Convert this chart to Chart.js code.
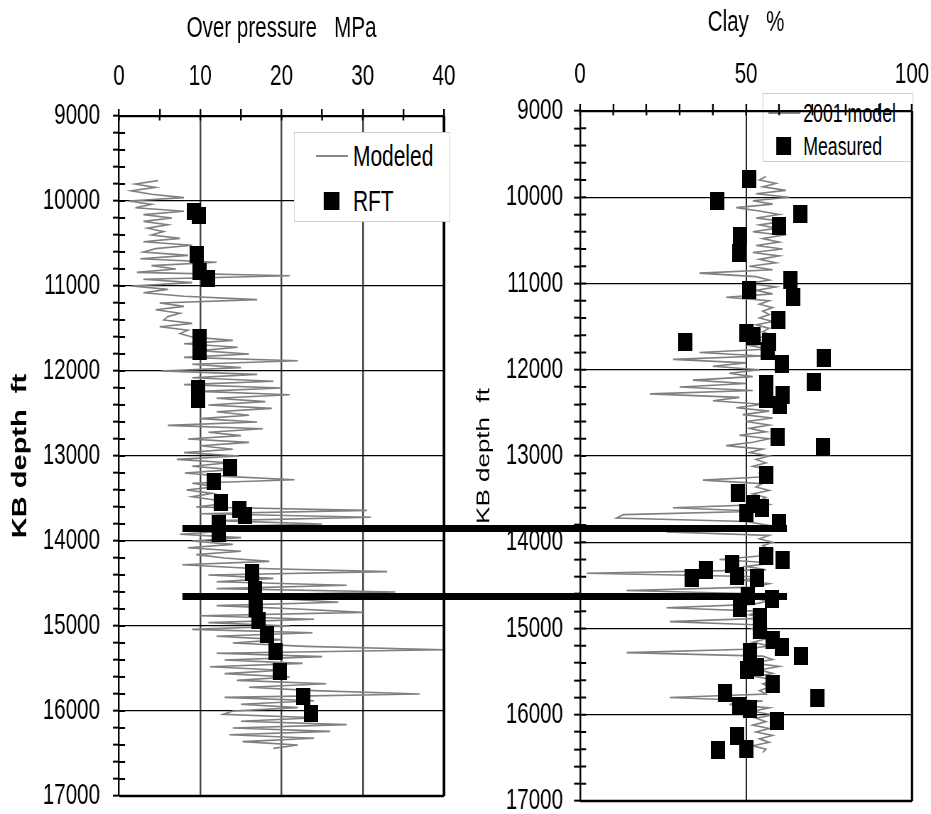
<!DOCTYPE html>
<html>
<head>
<meta charset="utf-8">
<script src="https://cdn.jsdelivr.net/npm/chart.js@4.4.1/dist/chart.umd.min.js"></script>
<style>
  html, body { margin: 0; padding: 0; background: #fff; overflow: hidden; }
  /* the source figure is squeezed sideways, so draw wide and squeeze the stage */
  #stage { position: relative; width: 1311px; height: 814px; transform: scaleX(0.71014); transform-origin: 0 0;
           font-family: "Liberation Sans", Arial, sans-serif; color: #000; }
  #stage canvas { position: absolute; left: 0; top: 0; display: block; }
  #clayCanvas { z-index: 2; }
  #pressureCanvas { z-index: 3; }
  .legend { position: absolute; background: #fff; border: 1px solid #cfcfcf; box-sizing: border-box; }
  .legend span { position: absolute; white-space: nowrap; }
  .legend i { position: absolute; display: block; }
  .swatch-line { height: 2px; background: #888; }
  .swatch-box { background: #000; }
  #legendClay { z-index: 1; left: 1074px; top: 93px; width: 212px; height: 69px; font-size: 25px; }
  #legendPressure { z-index: 4; left: 414px; top: 132px; width: 220px; height: 90px; font-size: 29.5px; }
</style>
</head>
<body>
<div id="stage">
  <div id="legendClay" class="legend">
    <i class="swatch-line" style="left:7px;top:18px;width:45px;"></i>
    <span style="left:56px;top:5px;line-height:28px;">2001 model</span>
    <i class="swatch-box" style="left:18px;top:43px;width:21px;height:18px;"></i>
    <span style="left:56px;top:38px;line-height:28px;">Measured</span>
  </div>
  <canvas id="clayCanvas" width="1311" height="814"></canvas>
  <canvas id="pressureCanvas" width="1311" height="814"></canvas>
  <div id="legendPressure" class="legend">
    <i class="swatch-line" style="left:30px;top:22px;width:45px;"></i>
    <span style="left:82px;top:8px;line-height:30px;">Modeled</span>
    <i class="swatch-box" style="left:41px;top:59px;width:22px;height:18px;"></i>
    <span style="left:82px;top:53px;line-height:30px;">RFT</span>
  </div>
</div>
<script>
// depth samples of both modelled logs (ft)
const modelDepth = [
  9760, 9800, 9840, 9880, 9920, 9960, 10000, 10040, 10080, 10120,
  10160, 10200, 10240, 10280, 10320, 10360, 10400, 10440, 10480, 10520,
  10560, 10600, 10640, 10680, 10720, 10760, 10800, 10840, 10880, 10920,
  10960, 11000, 11040, 11080, 11120, 11160, 11200, 11240, 11280, 11320,
  11360, 11400, 11440, 11480, 11520, 11560, 11600, 11640, 11680, 11720,
  11760, 11800, 11840, 11880, 11920, 11960, 12000, 12040, 12080, 12120,
  12160, 12200, 12240, 12280, 12320, 12360, 12400, 12440, 12480, 12520,
  12560, 12600, 12640, 12680, 12720, 12760, 12800, 12840, 12880, 12920,
  12960, 13000, 13040, 13080, 13120, 13160, 13200, 13240, 13280, 13320,
  13360, 13400, 13440, 13480, 13520, 13560, 13600, 13640, 13680, 13720,
  13760, 13800, 13840, 13880, 13920, 13960, 14000, 14040, 14080, 14120,
  14160, 14200, 14240, 14280, 14320, 14360, 14400, 14440, 14480, 14520,
  14560, 14600, 14640, 14680, 14720, 14760, 14800, 14840, 14880, 14920,
  14960, 15000, 15040, 15080, 15120, 15160, 15200, 15240, 15280, 15320,
  15360, 15400, 15440, 15480, 15520, 15560, 15600, 15640, 15680, 15720,
  15760, 15800, 15840, 15880, 15920, 15960, 16000, 16040, 16080, 16120,
  16160, 16200, 16240, 16280, 16320, 16360, 16400, 16440
];

// modelled over pressure (MPa)
const pressureModel = [
  4.8, 2.0, 4.5, 1.5, 4.0, 8.0, 1.2, 4.0, 2.0, 8.0,
  3.0, 6.5, 3.0, 6.0, 3.5, 5.5, 4.0, 7.5, 3.0, 9.0,
  4.5, 3.0, 8.5, 2.6, 12.0, 4.0, 7.0, 2.2, 21.0, 3.0,
  9.0, 1.6, 6.0, 3.0, 8.0, 17.0, 5.0, 8.0, 4.5, 7.5,
  6.0, 5.5, 9.0, 5.0, 8.5, 7.5, 9.0, 14.0, 8.0, 14.6,
  10.0, 16.0, 8.0, 22.0, 9.0, 15.0, 5.2, 17.0, 9.0, 19.0,
  8.0, 20.0, 10.0, 21.0, 12.0, 18.0, 11.0, 18.8, 12.0, 16.0,
  10.0, 17.0, 6.0, 17.7, 11.0, 15.0, 8.5, 16.0, 10.0, 14.0,
  8.0, 14.8, 7.1, 13.5, 9.0, 14.0, 8.1, 13.0, 21.6, 9.0,
  12.0, 8.3, 11.5, 9.0, 12.0, 13.0, 9.5, 30.5, 10.0, 31.0,
  12.0, 25.0, 8.0, 14.0, 7.5, 15.0, 9.0, 14.0, 8.5, 15.0,
  9.5, 13.0, 18.5, 7.8, 16.0, 33.0, 11.0, 19.0, 12.0, 28.0,
  12.0, 34.0, 13.0, 20.0, 27.0, 12.0, 22.0, 30.0, 10.0, 24.0,
  11.0, 21.0, 9.0, 23.8, 12.0, 20.0, 14.0, 23.0, 40.0, 12.0,
  25.0, 13.0, 22.6, 11.2, 20.0, 13.0, 21.0, 14.5, 25.5, 16.0,
  24.0, 37.0, 13.0, 24.0, 15.0, 22.0, 14.0, 12.8, 24.3, 15.0,
  28.0, 14.0, 26.0, 13.6, 24.0, 15.2, 22.0, 19.0
];

// 2001 model clay content (%)
const clayModel = [
  56, 54, 59, 55, 62, 53, 63, 52, 58, 47,
  54, 60, 53, 61, 54, 59, 52, 61, 55, 60,
  53, 61, 52, 60, 54, 59, 51, 58, 36, 53,
  57, 51, 59, 53, 58, 44, 57, 54, 58, 55,
  57, 54, 58, 53, 57, 55, 58, 52, 59, 51,
  57, 36, 55, 28, 50, 40, 54, 45, 52, 34,
  50, 30, 52, 21, 48, 40, 55, 47, 57, 49,
  58, 50, 57, 51, 56, 48, 57, 52, 44, 55,
  51, 57, 53, 56, 52, 57, 54, 56, 37, 55,
  53, 57, 52, 56, 54, 57, 28, 54, 13, 11,
  50, 56, 48, 26, 57, 54, 58, 55, 57, 54,
  54, 42, 58, 50, 56, 2, 55, 49, 57, 52,
  14, 55, 50, 57, 52, 26, 54, 51, 56, 27,
  55, 52, 57, 53, 56, 52, 57, 50, 14, 55,
  58, 52, 60, 54, 58, 53, 59, 55, 57, 54,
  56, 27, 55, 45, 57, 52, 58, 53, 56, 52,
  57, 53, 58, 54, 57, 52, 56, 55
];

// RFT measurements
const rftPressure = [9.2, 9.8, 9.6, 9.9, 11.0, 9.9, 9.9, 9.7, 9.7, 13.7, 11.7, 12.5, 14.8,
  15.5, 12.3, 12.3, 16.4, 16.7, 16.8, 17.2, 18.2, 19.3, 19.8, 22.7, 23.6];
const rftDepth = [10120, 10165, 10635, 10830, 10915, 11600, 11770, 12210, 12340, 13130, 13295, 13550, 13625,
  13705, 13790, 13915, 14365, 14565, 14790, 14930, 15105, 15305, 15530, 15825, 16025];

// measured clay
const clayMeasured = [51.0, 41.3, 66.3, 59.9, 48.2, 48.0, 63.3, 51.0, 64.2, 59.8, 50.1, 52.3, 31.6, 56.9,
  56.6, 73.4, 60.8, 70.5, 56.0, 61.1, 56.0, 60.2, 59.6, 73.2, 56.0, 47.6, 52.1, 54.8, 50.0, 59.9,
  56.0, 61.1, 45.8, 38.0, 33.7, 47.3, 53.3, 50.6, 57.8, 48.2, 54.2, 54.2, 58.1, 60.8, 66.6, 51.2,
  50.3, 53.3, 58.1, 43.7, 71.4, 47.9, 51.2, 59.3, 47.3, 41.6, 50.0];
const clayDepth = [9783, 10041, 10194, 10333, 10449, 10646, 10954, 11081, 11157, 11423, 11574, 11609, 11675, 11684,
  11783, 11864, 11933, 12142, 12165, 12293, 12339, 12409, 12780, 12901, 13226, 13429, 13557, 13603, 13661, 13777,
  14159, 14206, 14252, 14322, 14414, 14391, 14414, 14623, 14658, 14762, 14867, 15017, 15133, 15214, 15319, 15272,
  15481, 15446, 15643, 15748, 15806, 15899, 15933, 16072, 16246, 16409, 16397];

// the two horizons that cross both tracks
const horizonDepths = [13853, 14653];
const horizonFromPressure = 7.8;
const horizonToClay = 62.3;

const depthLabels = [9000, 10000, 11000, 12000, 13000, 14000, 15000, 16000, 17000];
const pressureLabels = [0, 10, 20, 30, 40];
const clayLabels = [0, 50, 100];

Chart.defaults.font.family = '"Liberation Sans", Arial, sans-serif';
Chart.defaults.font.size = 29;
Chart.defaults.color = '#000';

function block(w, h) {
    const c = document.createElement('canvas');
    c.width = w;
    c.height = h;
    const g = c.getContext('2d');
    g.fillStyle = '#000';
    g.fillRect(0, 0, w, h);
    return c;
}

// tick stubs inside the plot, plus the right and bottom edges of the box
const frame = {
    id: 'frame',
    afterDraw(chart, args, opts) {
        const { ctx, chartArea: a, scales: { x, y } } = chart;
        ctx.save();
        ctx.strokeStyle = '#000';
        ctx.lineWidth = 2;
        y.ticks.forEach(t => {
            const py = y.getPixelForValue(t.value);
            ctx.beginPath(); ctx.moveTo(a.left, py); ctx.lineTo(a.left + 8.5, py); ctx.stroke();
        });
        ctx.lineWidth = 2.4;
        x.ticks.forEach(t => {
            const px = x.getPixelForValue(t.value);
            ctx.beginPath(); ctx.moveTo(px, a.top); ctx.lineTo(px, a.top + opts.inner); ctx.stroke();
        });
        ctx.lineWidth = opts.right;
        ctx.beginPath(); ctx.moveTo(a.right, a.top); ctx.lineTo(a.right, a.bottom); ctx.stroke();
        ctx.lineWidth = opts.bottom;
        ctx.beginPath(); ctx.moveTo(a.left, a.bottom); ctx.lineTo(a.right, a.bottom); ctx.stroke();
        ctx.restore();
    }
};

function depthAxis(width, labelPad, titlePad, titleFont) {
    return {
        type: 'linear',
        position: 'left',
        reverse: true,
        min: 9000,
        max: 17000,
        afterFit: s => {
            s.width = width;
            s.paddingTop = 0;
            s.paddingBottom = 0;
        },
        ticks: {
            stepSize: 200,
            autoSkip: false,
            maxTicksLimit: 100,
            padding: labelPad,
            callback: v => depthLabels.includes(v) ? String(v) : ''
        },
        grid: {
            color: c => c.tick && depthLabels.includes(c.tick.value) ? '#000' : 'rgba(0,0,0,0)',
            lineWidth: 1.3,
            tickColor: '#000',
            tickLength: 8.5,
            tickWidth: 2
        },
        border: { color: '#000', width: 2.4 },
        title: { display: true, text: 'KB depth  ft', font: titleFont, padding: { top: titlePad, bottom: 0 } }
    };
}

function valueAxis(o) {
    return {
        type: 'linear',
        position: 'top',
        min: o.labels[0],
        max: o.labels[o.labels.length - 1],
        afterFit: s => {
            s.height = o.height;
            s.paddingLeft = 0;
            s.paddingRight = 0;
        },
        ticks: {
            stepSize: o.step,
            autoSkip: false,
            maxRotation: 0,
            padding: o.pad,
            callback: v => o.labels.includes(v) ? String(v) : ''
        },
        grid: {
            color: c => c.tick && o.gridAt.includes(c.tick.value) ? o.gridColor : 'rgba(0,0,0,0)',
            lineWidth: o.gridWidth,
            tickColor: '#000',
            tickLength: 7,
            tickWidth: 2.4
        },
        border: { color: '#000', width: 2.3 },
        title: { display: true, text: o.title, padding: { top: o.titlePad, bottom: 0 } }
    };
}

const clayChart = new Chart(document.getElementById('clayCanvas'), {
    type: 'scatter',
    data: {
        datasets: [{
            label: 'Measured',
            data: clayDepth.map((d, i) => ({ x: clayMeasured[i], y: d })),
            pointStyle: block(20, 18),
            pointRadius: 9
        }, {
            label: '2001 model',
            data: modelDepth.map((d, i) => ({ x: clayModel[i], y: d })),
            showLine: true,
            borderColor: '#808080',
            borderWidth: 1.6,
            pointRadius: 0,
            tension: 0
        }]
    },
    options: {
        responsive: false,
        animation: false,
        events: [],
        layout: { padding: { left: 650, top: 0, right: 26.7, bottom: 13 } },
        plugins: {
            legend: { display: false },
            tooltip: { enabled: false },
            frame: { inner: 4.3, right: 3.2, bottom: 2.7 }
        },
        scales: {
            x: valueAxis({ labels: clayLabels, step: 10, height: 111, pad: 11.6, gridAt: [50], gridColor: '#000',
                gridWidth: 1.8, title: 'Clay   %', titlePad: 5.6 }),
            y: depthAxis(166.8, 15.5, 16, { size: 26 })
        }
    },
    plugins: [frame]
});

// thick horizon lines, drawn last so they run across both tracks
const horizons = {
    id: 'horizons',
    afterDraw(chart) {
        const { ctx, scales: { x, y } } = chart;
        const x0 = x.getPixelForValue(horizonFromPressure);
        const x1 = clayChart.scales.x.getPixelForValue(horizonToClay);
        ctx.save();
        ctx.strokeStyle = '#000';
        ctx.lineWidth = 7;
        horizonDepths.forEach(d => {
            const py = y.getPixelForValue(d);
            ctx.beginPath(); ctx.moveTo(x0, py); ctx.lineTo(x1, py); ctx.stroke();
        });
        ctx.restore();
    }
};

new Chart(document.getElementById('pressureCanvas'), {
    type: 'scatter',
    data: {
        datasets: [{
            label: 'RFT',
            data: rftDepth.map((d, i) => ({ x: rftPressure[i], y: d })),
            pointStyle: block(20, 17),
            pointRadius: 9
        }, {
            label: 'Modeled',
            data: modelDepth.map((d, i) => ({ x: pressureModel[i], y: d })),
            showLine: true,
            borderColor: '#808080',
            borderWidth: 1.6,
            pointRadius: 0,
            tension: 0
        }]
    },
    options: {
        responsive: false,
        animation: false,
        events: [],
        layout: { padding: { left: 0, top: 0, right: 685.8, bottom: 18 } },
        plugins: {
            legend: { display: false },
            tooltip: { enabled: false },
            frame: { inner: 4.5, right: 3.8, bottom: 2.3 }
        },
        scales: {
            x: valueAxis({ labels: pressureLabels, step: 5, height: 116, pad: 14.6, gridAt: [10, 20, 30], gridColor: '#444',
                gridWidth: 2.4, title: 'Over pressure   MPa', titlePad: 11.6 }),
            y: depthAxis(167.6, 18.3, 11.5, { size: 29, weight: 'bold' })
        }
    },
    plugins: [frame, horizons]
});
</script>
</body>
</html>
